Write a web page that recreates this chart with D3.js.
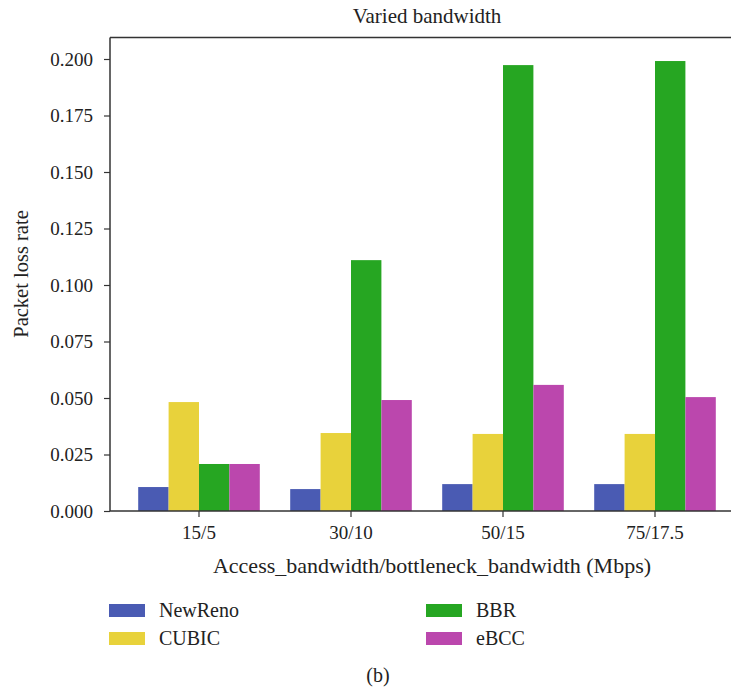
<!DOCTYPE html>
<html><head><meta charset="utf-8">
<script src="https://cdn.jsdelivr.net/npm/d3@7"></script>
<style>body{margin:0;background:#fff}text{font-family:"Liberation Serif","Times New Roman",serif;fill:#222}</style>
</head><body><svg id="c" width="731" height="690"></svg>
<script>
const categories = ["15/5","30/10","50/15","75/17.5"];
const seriesNames = ["NewReno","CUBIC","BBR","eBCC"];
const seriesColors = ["#4a5bb3","#e8d23b","#26a622","#bb47ad"];
const newReno = [0.0106,0.0097,0.0119,0.0119];
const cubic = [0.0482,0.0345,0.0341,0.0341];
const bbr = [0.0208,0.111,0.1973,0.1991];
const eBCC = [0.0208,0.0491,0.0558,0.0504];
const yTicks = [0,0.025,0.05,0.075,0.1,0.125,0.15,0.175,0.2];
const values = [newReno,cubic,bbr,eBCC];

const svg = d3.select("#c");
const L=110, R=731, T=37.5, B=511;
const x = d3.scaleBand().domain(categories).range([123,731]).paddingInner(0.2).paddingOuter(0.1);
const xs = d3.scaleBand().domain(seriesNames).range([0,x.bandwidth()]);
const y = d3.scaleLinear().domain([0,0.2]).range([B,B-8*56.5]);

seriesNames.forEach((s,si)=>{
  svg.append("g").selectAll("rect").data(categories).join("rect")
    .attr("x",c=>x(c)+xs(s)).attr("width",xs.bandwidth())
    .attr("y",(c,i)=>y(values[si][i])).attr("height",(c,i)=>B-y(values[si][i]))
    .attr("fill",seriesColors[si]);
});

svg.append("line").attr("x1",L).attr("x2",R).attr("y1",T).attr("y2",T).attr("stroke","#333").attr("stroke-width",1.5);

const yAx = svg.append("g").attr("transform",`translate(${L},0)`)
  .call(d3.axisLeft(y).tickValues(yTicks).tickFormat(d3.format(".3f")).tickSize(6).tickPadding(11));
yAx.select(".domain").attr("d",`M0,${T}V${B}`).attr("stroke","#333").attr("stroke-width",1.5);
yAx.selectAll(".tick line").attr("stroke","#333").attr("stroke-width",1.2);
yAx.selectAll("text").style("font-size","19px").attr("fill","#222");

const xAx = svg.append("g").attr("transform",`translate(0,${B})`)
  .call(d3.axisBottom(x).tickSize(6).tickPadding(9));
xAx.select(".domain").attr("d",`M${L},0H${R}`).attr("stroke","#333").attr("stroke-width",1.5);
xAx.selectAll(".tick line").attr("stroke","#333").attr("stroke-width",1.2);
xAx.selectAll("text").style("font-size","19px").attr("fill","#222");

svg.append("text").attr("x",427).attr("y",23).attr("text-anchor","middle").style("font-size","21px").text("Varied bandwidth");
svg.append("text").attr("x",432).attr("y",573).attr("text-anchor","middle").style("font-size","22px").text("Access_bandwidth/bottleneck_bandwidth (Mbps)");
svg.append("text").attr("transform","translate(28,274) rotate(-90)").attr("text-anchor","middle").style("font-size","20.5px").text("Packet loss rate");

const legPos = [[109,604],[109,632],[426,604],[426,632]];
seriesNames.forEach((s,i)=>{
  const [lx,ly]=legPos[i];
  svg.append("rect").attr("x",lx).attr("y",ly).attr("width",36).attr("height",13).attr("fill",seriesColors[i]);
  svg.append("text").attr("x",lx+50).attr("y",ly+13).style("font-size","20px").text(s);
});
svg.append("text").attr("x",378).attr("y",682).attr("text-anchor","middle").style("font-size","20px").text("(b)");
</script></body></html>
